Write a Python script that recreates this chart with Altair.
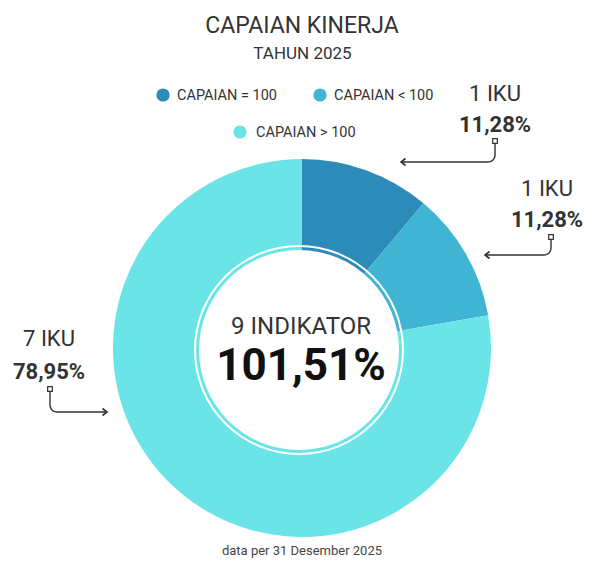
import math
import altair as alt
import pandas as pd

# ---------------- data ----------------
categories = ["CAPAIAN = 100", "CAPAIAN < 100", "CAPAIAN > 100"]
shares = [11.28, 11.28, 78.95]
count_labels = ["1 IKU", "1 IKU", "7 IKU"]
share_labels = ["11,28%", "11,28%", "78,95%"]
colors = ["#2d8bba", "#40b4d3", "#6be4e7"]
title_text = "CAPAIAN KINERJA"
subtitle_text = "TAHUN 2025"
center_top = "9 INDIKATOR"
center_value = "101,51%"
footer_text = "data per 31 Desember 2025"

# ---------------- layout ----------------
W, H = 579, 551
FONT = "Roboto"
TXT = "#333333"
CX, CY, R = 294, 340, 189
ICX, ICY = 291, 342

one = pd.DataFrame({"k": [0]})


def txt(s, x, y, size, weight="normal", align="center", color=TXT):
    return alt.Chart(one).mark_text(
        x=x, y=y, fontSize=size, fontWeight=weight, align=align,
        baseline="alphabetic", color=color, font=FONT
    ).encode(text=alt.value(s))


def path(pts, width=1.4):
    pdf = pd.DataFrame({"x": [p[0] for p in pts], "y": [p[1] for p in pts],
                        "i": list(range(len(pts)))})
    return alt.Chart(pdf).mark_line(color=TXT, strokeWidth=width).encode(
        x=alt.X("x:Q", scale=None, axis=None), y=alt.Y("y:Q", scale=None, axis=None),
        order=alt.Order("i:Q"))


pie_df = pd.DataFrame({"cat": categories, "share": shares, "ord": [0, 1, 2]})
pie = alt.Chart(pie_df).mark_arc(outerRadius=R, innerRadius=0).encode(
    theta=alt.Theta("share:Q", stack=True),
    order=alt.Order("ord:Q"),
    color=alt.Color("cat:N", scale=alt.Scale(domain=categories, range=colors), legend=None),
    x=alt.value(CX), y=alt.value(CY),
)

ring = alt.Chart(one).mark_arc(
    innerRadius=103, outerRadius=105, theta=0, theta2=2 * math.pi, color="white"
).encode(x=alt.value(ICX), y=alt.value(ICY))
disk = alt.Chart(one).mark_arc(
    innerRadius=0, outerRadius=100, theta=0, theta2=2 * math.pi, color="white"
).encode(x=alt.value(ICX), y=alt.value(ICY))

layers = [pie, ring, disk]

# titles
layers.append(txt(title_text, 294, 25, 23))
layers.append(txt(subtitle_text, 294.5, 51, 17))

# custom legend
leg_pos = [((155, 87), (169, 92)), ((312, 87), (326, 92)), ((232, 124), (248, 129))]
for (cpos, tpos), cat, col in zip(leg_pos, categories, colors):
    layers.append(alt.Chart(one).mark_point(
        x=cpos[0], y=cpos[1], filled=True, size=175, shape="circle", opacity=1
    ).encode(color=alt.value(col)))
    layers.append(txt(cat, tpos[0], tpos[1], 14.5, align="left"))

# slice annotations
lab_pos = [(487, 93, 124), (539, 188, 219), (41, 338, 371)]
for (x, y1, y2), c, s in zip(lab_pos, count_labels, share_labels):
    layers.append(txt(c, x, y1, 22))
    layers.append(txt(s, x, y2, 22, weight="bold"))

# arrows (start x, start y, elbow y, tip x)
arrows = [(487, 133, 154, 393), (543, 229, 247, 477), (42, 381, 404, 99)]
for sx, sy, ey, tx in arrows:
    d = -1 if tx < sx else 1
    rr = 7
    pts = [(sx, sy), (sx, ey - rr)]
    for i in range(1, 9):
        a = (math.pi / 2) * i / 8
        pts.append((sx + d * rr * (1 - math.cos(a)), ey - rr + rr * math.sin(a)))
    pts.append((tx, ey))
    layers.append(path(pts))
    # chevron head
    layers.append(path([(tx - d * 4.5, ey - 3.5), (tx, ey), (tx - d * 4.5, ey + 3.5)], 1.6))
    layers.append(alt.Chart(one).mark_point(
        x=sx, y=sy, shape="square", filled=True, size=22, opacity=1,
        stroke=TXT, strokeWidth=1.2).encode(color=alt.value("white")))

# center text
layers.append(txt(center_top, 293, 326, 24))
layers.append(txt(center_value, 293, 372, 44, weight="bold", color="#111111"))

# footer
layers.append(txt(footer_text, 294, 547, 13, color="#444444"))

chart = alt.layer(*layers).properties(
    width=W, height=H, padding=0, autosize=alt.AutoSizeParams(type="none")
).configure(background="white", view=alt.ViewConfig(stroke=None))

chart.save("out.html", embed_options={"renderer": "svg", "actions": False})
